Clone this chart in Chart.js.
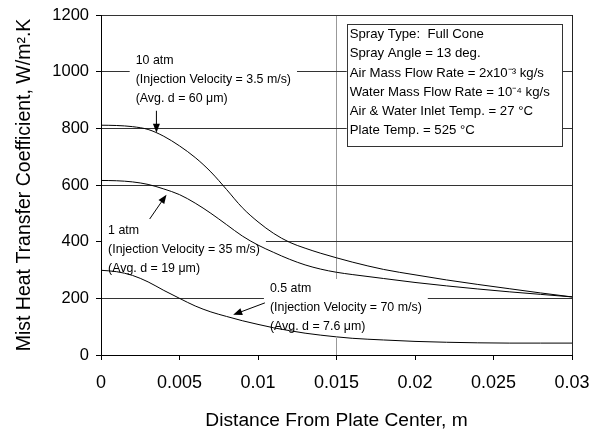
<!DOCTYPE html>
<html>
<head>
<meta charset="utf-8">
<script src="https://cdn.jsdelivr.net/npm/chart.js@4.4.1/dist/chart.umd.min.js"></script>
<style>
  html, body { margin: 0; padding: 0; background: #fff; }
  #wrap { width: 593px; height: 435px; }
</style>
</head>
<body>
<div id="wrap"><canvas id="chart" width="593" height="435"></canvas></div>
<script>
// Distance from plate center (m)
const distance = [0, 0.001, 0.002, 0.003, 0.004, 0.005, 0.006, 0.007, 0.008, 0.009, 0.010,
                  0.011, 0.012, 0.013, 0.014, 0.015, 0.016, 0.018, 0.020, 0.022, 0.024,
                  0.026, 0.028, 0.030];

// Mist heat transfer coefficient (W/m2.K)
const h10atm = [811, 810, 806, 796, 772, 738, 697, 646, 584, 520, 470,
                429, 398, 377, 359, 343, 328, 302, 283, 265, 249,
                234, 219, 205];
const h1atm = [616, 615, 611, 602, 586, 566, 536, 500, 460, 420, 388,
               362, 338, 318, 303, 292, 284, 270, 256, 244, 233,
               223, 214, 205];
const h05atm = [299, 294, 281, 258, 228, 200, 173, 152, 136, 121, 108,
                96, 86, 77, 70, 64, 59, 53, 48, 45, 43,
                42, 42, 42];

const xTicks = [0, 0.005, 0.01, 0.015, 0.02, 0.025, 0.03];
const yTicks = [0, 200, 400, 600, 800, 1000, 1200];

const seriesNames = ['10 atm', '1 atm', '0.5 atm'];

const infoLines = [
    'Spray Type:  Full Cone',
    'Spray Angle = 13 deg.',
    'Air Mass Flow Rate = 2x10\u207B\u00B3 kg/s',
    'Water Mass Flow Rate = 10\u207B\u2074 kg/s',
    'Air & Water Inlet Temp. = 27 \u00B0C',
    'Plate Temp. = 525 \u00B0C'
];

const FONT = '"Liberation Sans", Arial, sans-serif';

function toPoints(ys) {
    return ys.map((y, i) => ({ x: distance[i], y: y }));
}

// labels + arrows, anchored in data units
const curveLabels = [
    { x: 0.00221, y: 1040, lines: ['10 atm', '(Injection Velocity = 3.5 m/s)', '(Avg. d = 60 \u03BCm)'] },
    { x: 0.00045, y: 440, lines: ['1 atm', '(Injection Velocity = 35 m/s)', '(Avg. d = 19 \u03BCm)'] },
    { x: 0.01076, y: 233, lines: ['0.5 atm', '(Injection Velocity = 70 m/s)', '(Avg. d = 7.6 \u03BCm)'] }
];
const arrows = [
    { from: [0.00353, 862], to: [0.00353, 784] },
    { from: [0.0031, 480], to: [0.00417, 566] },
    { from: [0.01044, 184], to: [0.00842, 142] }
];

const annotations = {
    id: 'annotations',
    beforeDatasetsDraw(chart) {
        const ctx = chart.ctx;
        const xs = chart.scales.x, ys = chart.scales.y;
        ctx.save();
        ctx.font = '12.4px ' + FONT;
        ctx.textBaseline = 'middle';
        ctx.textAlign = 'left';
        curveLabels.forEach(lab => {
            const x0 = xs.getPixelForValue(lab.x);
            const y0 = ys.getPixelForValue(lab.y);
            const w = Math.max(...lab.lines.map(t => ctx.measureText(t).width));
            ctx.fillStyle = '#fff';
            ctx.fillRect(x0 - 6, y0 - 10, w + 12, 19 * lab.lines.length + 2);
            ctx.fillStyle = '#000';
            lab.lines.forEach((t, i) => ctx.fillText(t, x0, y0 + i * 19));
        });

        // info box
        const bx = xs.getPixelForValue(0.01565), bx2 = xs.getPixelForValue(0.02937);
        const by = ys.getPixelForValue(1167), by2 = ys.getPixelForValue(736);
        ctx.fillStyle = '#fff';
        ctx.fillRect(bx, by, bx2 - bx, by2 - by);
        ctx.strokeStyle = '#333';
        ctx.lineWidth = 1;
        ctx.strokeRect(Math.round(bx) + 0.5, Math.round(by) + 0.5, Math.round(bx2 - bx), Math.round(by2 - by));
        ctx.fillStyle = '#000';
        ctx.font = '13.2px ' + FONT;
        infoLines.forEach((t, i) => ctx.fillText(t, bx + 3, by + 10 + i * 19.3));
        ctx.restore();
    },
    afterDatasetsDraw(chart) {
        const ctx = chart.ctx;
        const xs = chart.scales.x, ys = chart.scales.y;
        ctx.save();
        ctx.strokeStyle = '#000';
        ctx.fillStyle = '#000';
        ctx.lineWidth = 1;
        arrows.forEach(a => {
            const x1 = xs.getPixelForValue(a.from[0]), y1 = ys.getPixelForValue(a.from[1]);
            const x2 = xs.getPixelForValue(a.to[0]), y2 = ys.getPixelForValue(a.to[1]);
            const ang = Math.atan2(y2 - y1, x2 - x1);
            ctx.beginPath();
            ctx.moveTo(x1, y1);
            ctx.lineTo(x2 - 6 * Math.cos(ang), y2 - 6 * Math.sin(ang));
            ctx.stroke();
            ctx.beginPath();
            ctx.moveTo(x2, y2);
            ctx.lineTo(x2 - 9 * Math.cos(ang) + 3.5 * Math.sin(ang), y2 - 9 * Math.sin(ang) - 3.5 * Math.cos(ang));
            ctx.lineTo(x2 - 9 * Math.cos(ang) - 3.5 * Math.sin(ang), y2 - 9 * Math.sin(ang) + 3.5 * Math.cos(ang));
            ctx.closePath();
            ctx.fill();
        });
        ctx.restore();
    }
};

const ctx = document.getElementById('chart').getContext('2d');
new Chart(ctx, {
    type: 'line',
    data: {
        datasets: [h10atm, h1atm, h05atm].map((ys, i) => ({
            label: seriesNames[i],
            data: toPoints(ys),
            borderColor: '#000',
            borderWidth: 1,
            pointRadius: 0,
            fill: false,
            cubicInterpolationMode: 'monotone'
        }))
    },
    options: {
        responsive: false,
        animation: false,
        layout: { padding: { left: 0, right: 21, top: 15, bottom: 0 } },
        plugins: {
            legend: { display: false },
            tooltip: { enabled: false }
        },
        scales: {
            x: {
                type: 'linear',
                min: 0,
                max: 0.03,
                afterBuildTicks: (scale) => { scale.ticks = xTicks.map(v => ({ value: v })); },
                afterFit: (scale) => {
                    scale.height = 80;
                    scale.paddingLeft = 0;
                    scale.paddingRight = 0;
                },
                ticks: {
                    color: '#000',
                    font: { family: FONT, size: 18 },
                    padding: 12,
                    maxRotation: 0,
                    callback: (v) => String(v)
                },
                grid: {
                    color: (c) => c.tick && c.tick.value === 0.015 ? '#999' : (c.tick && c.tick.value === 0.03 ? '#222' : 'rgba(0,0,0,0)'),
                    tickColor: '#000',
                    tickLength: 5
                },
                border: { color: '#000', width: 1 },
                title: {
                    display: true,
                    text: 'Distance From Plate Center, m',
                    color: '#000',
                    font: { family: FONT, size: 19.2 },
                    padding: { top: 0, bottom: 3 }
                }
            },
            y: {
                min: 0,
                max: 1200,
                afterBuildTicks: (scale) => { scale.ticks = yTicks.map(v => ({ value: v })); },
                afterFit: (scale) => {
                    scale.width = 101;
                    scale.paddingTop = 0;
                    scale.paddingBottom = 0;
                },
                ticks: {
                    color: '#000',
                    font: { family: FONT, size: 16.5 },
                    padding: 7,
                    callback: (v) => String(v)
                },
                grid: {
                    color: '#333',
                    tickColor: '#000',
                    tickLength: 5
                },
                border: { color: '#000', width: 1 },
                title: {
                    display: true,
                    text: 'Mist Heat Transfer Coefficient, W/m\u00B2.K',
                    color: '#000',
                    font: { family: FONT, size: 19.5 },
                    padding: { top: 13, bottom: 0 }
                }
            }
        }
    },
    plugins: [annotations]
});
</script>
</body>
</html>
